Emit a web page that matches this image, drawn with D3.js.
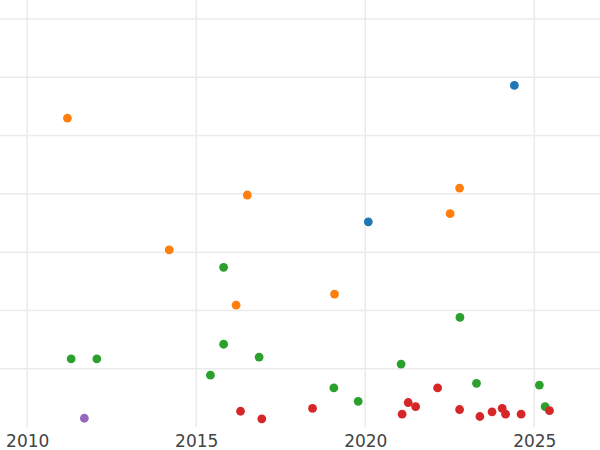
<!DOCTYPE html>
<html>
<head>
<meta charset="utf-8">
<script src="https://cdn.jsdelivr.net/npm/d3@7"></script>
<style>
  html, body { margin: 0; padding: 0; background: #fff; }
  svg { display: block; }
</style>
</head>
<body>
<svg id="chart" width="600" height="450"></svg>
<script>
// ---- data ----
const seriesNames = ["blue", "orange", "green", "red", "purple"];
const seriesColors = ["#1f77b4", "#ff7f0e", "#2ca02c", "#d62728", "#9467bd"];

const blueYears   = [2024.41, 2020.09];
const blueValues  = [5.86, 3.52];

const orangeYears  = [2011.19, 2016.51, 2022.79, 2022.51, 2014.20, 2016.18, 2019.09];
const orangeValues = [5.30, 3.98, 4.10, 3.66, 3.04, 2.09, 2.28];

const greenYears  = [2011.30, 2012.06, 2015.81, 2015.81, 2016.86, 2015.42, 2019.07, 2019.79, 2021.06, 2022.80, 2023.29, 2025.15, 2025.32];
const greenValues = [1.17, 1.17, 2.74, 1.42, 1.20, 0.89, 0.67, 0.44, 1.08, 1.88, 0.75, 0.72, 0.35];

const redYears  = [2016.31, 2016.94, 2018.44, 2021.09, 2021.27, 2021.49, 2022.14, 2022.79, 2023.39, 2023.75, 2024.05, 2024.15, 2024.61, 2025.45];
const redValues = [0.27, 0.14, 0.32, 0.22, 0.42, 0.35, 0.67, 0.30, 0.18, 0.26, 0.32, 0.22, 0.22, 0.28];

const purpleYears  = [2011.69];
const purpleValues = [0.15];

const xTicks = [2010, 2015, 2020, 2025];
const yGrid = [1, 2, 3, 4, 5, 6, 7];

// ---- layout ----
const svg = d3.select("#chart");
const W = 600, plotBottom = 427;

const x = d3.scaleLinear().domain([2010, 2025]).range([27.2, 534.3]);
const y = d3.scaleLinear().domain([0, 7]).range([plotBottom, 19]);

const grid = svg.append("g");
grid.selectAll("line.v").data(xTicks).join("line")
  .attr("x1", d => x(d)).attr("x2", d => x(d))
  .attr("y1", 0).attr("y2", plotBottom)
  .attr("stroke", "#ebebeb").attr("stroke-width", 1.5);
grid.selectAll("line.h").data(yGrid).join("line")
  .attr("x1", 0).attr("x2", W)
  .attr("y1", d => y(d)).attr("y2", d => y(d))
  .attr("stroke", "#ebebeb").attr("stroke-width", 1.5);

// x axis labels via d3 axis
const xAxis = d3.axisBottom(x).tickValues(xTicks).tickFormat(d3.format("d")).tickSize(0).tickPadding(0);
const ax = svg.append("g").attr("transform", `translate(0,${plotBottom})`).call(xAxis);
ax.select(".domain").remove();
ax.selectAll("text")
  .attr("dy", null).attr("y", 20)
  .attr("font-family", "DejaVu Sans, sans-serif")
  .attr("font-size", 17)
  .attr("fill", "#444");

// points
const allSeries = [
  [blueYears, blueValues],
  [orangeYears, orangeValues],
  [greenYears, greenValues],
  [redYears, redValues],
  [purpleYears, purpleValues]
];
allSeries.forEach(([xs, ys], i) => {
  const pts = xs.map((v, j) => ({ x: v, y: ys[j] }));
  svg.append("g").selectAll("circle").data(pts).join("circle")
    .attr("cx", d => x(d.x)).attr("cy", d => y(d.y))
    .attr("r", 4.4)
    .attr("fill", seriesColors[i]);
});
</script>
</body>
</html>
